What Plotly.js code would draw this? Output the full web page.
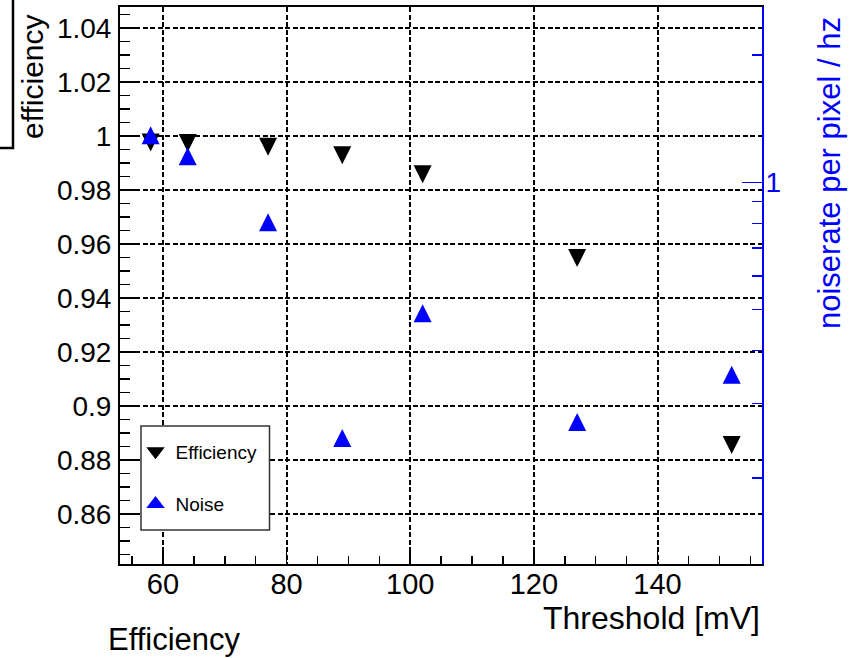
<!DOCTYPE html>
<html>
<head>
<meta charset="utf-8">
<script src="https://cdn.plot.ly/plotly-3.0.1.min.js"></script>
<style>html,body{margin:0;padding:0;background:#fff;}#chart{width:856px;height:658px;}</style>
</head>
<body>
<div id="chart"></div>
<script>
// ---- data ----
const thresholds = [58, 64, 77, 89, 102, 127, 152];          // Threshold [mV]
const efficiency = [0.9976, 0.9974, 0.9960, 0.9929, 0.9859, 0.9548, 0.8856];
const noiseRate  = [1.291, 1.152, 0.804, 0.2486, 0.490, 0.2713, 0.3507]; // per pixel / hz
const noiseMajorTicks = [1];
const noiseMinorTicks = [0.2, 0.3, 0.4, 0.5, 0.6, 0.7, 0.8, 0.9, 2];
const seriesNames = ['Efficiency', 'Noise'];

// ---- layout geometry ----
const W = 856, H = 658;
const M = {l: 120, r: 94, t: 7, b: 94};
const PW = W - M.l - M.r, PH = H - M.t - M.b;
const px2x = px => (px - M.l) / PW;
const py2y = py => (H - M.b - py) / PH;
const FONT = 'Liberation Sans, Arial, Helvetica, sans-serif';
const BLUE = '#0000ff';

const traces = [
  {
    x: thresholds, y: efficiency, name: seriesNames[0], type: 'scatter', mode: 'markers',
    showlegend: false,
    marker: {symbol: 'arrow-down', angle: 0, standoff: 9, size: 18, color: '#000000', line: {width: 0}},
    xaxis: 'x', yaxis: 'y'
  },
  {
    x: thresholds, y: noiseRate, name: seriesNames[1], type: 'scatter', mode: 'markers',
    showlegend: false,
    marker: {symbol: 'arrow-down', angle: 180, standoff: 9, size: 18, color: BLUE, line: {width: 0}},
    xaxis: 'x', yaxis: 'y2'
  },
  // legend entries (no drawn points)
  {
    x: [null], y: [null], name: seriesNames[0], type: 'scatter', mode: 'markers',
    legendgroup: 'a', showlegend: true, hoverinfo: 'skip',
    marker: {symbol: 'triangle-down', size: 16, color: '#000000', line: {width: 0}},
    xaxis: 'x', yaxis: 'y'
  },
  {
    x: [null], y: [null], name: seriesNames[1], type: 'scatter', mode: 'markers',
    legendgroup: 'b', showlegend: true, hoverinfo: 'skip',
    marker: {symbol: 'triangle-up', size: 16, color: BLUE, line: {width: 0}},
    xaxis: 'x', yaxis: 'y'
  }
];

const layout = {
  width: W, height: H,
  margin: M,
  paper_bgcolor: '#ffffff', plot_bgcolor: '#ffffff',
  font: {family: FONT, color: '#000000'},
  showlegend: true,
  legend: {
    x: px2x(135.5), y: py2y(432.5), xanchor: 'left', yanchor: 'top',
    bgcolor: 'rgba(0,0,0,0)', borderwidth: 0,
    font: {family: FONT, size: 19, color: '#000'},
    tracegroupgap: 25, traceorder: 'grouped', itemwidth: 30
  },
  xaxis: {
    range: [53.05, 156.9],
    tick0: 0, dtick: 20,
    ticks: 'inside', ticklen: 16, tickwidth: 1.5, tickcolor: '#000',
    minor: {dtick: 5, ticks: 'inside', ticklen: 8, tickwidth: 1.5, tickcolor: '#000', showgrid: false},
    showline: true, linecolor: '#000', linewidth: 2, mirror: true,
    showgrid: true, gridcolor: '#000', gridwidth: 2, griddash: '5px,2.5px',
    zeroline: false,
    tickfont: {family: FONT, size: 29, color: '#000'},
    ticklabelstandoff: -7
  },
  yaxis: {
    range: [0.8415, 1.0478],
    tick0: 0, dtick: 0.02,
    ticks: 'inside', ticklen: 20, tickwidth: 1.5, tickcolor: '#000',
    minor: {dtick: 0.005, ticks: 'inside', ticklen: 10, tickwidth: 1.5, tickcolor: '#000', showgrid: false},
    showline: true, linecolor: '#000', linewidth: 2,
    showgrid: true, gridcolor: '#000', gridwidth: 2, griddash: '5px,2.5px',
    zeroline: false,
    tickfont: {family: FONT, size: 28, color: '#000'},
    ticklabelstandoff: 1
  },
  yaxis2: {
    type: 'log', overlaying: 'y', side: 'right', anchor: 'x',
    range: [-0.9024, 0.4144],
    tickmode: 'array', tickvals: noiseMajorTicks, ticktext: noiseMajorTicks.map(String),
    ticks: 'inside', ticklen: 20, tickwidth: 1.5, tickcolor: BLUE,
    minor: {tickmode: 'array', tickvals: noiseMinorTicks, ticks: 'inside', ticklen: 10, tickwidth: 1.5, tickcolor: BLUE, showgrid: false},
    showline: true, linecolor: BLUE, linewidth: 2,
    showgrid: false, zeroline: false,
    tickfont: {family: FONT, size: 28, color: BLUE},
    ticklabelstandoff: -4
  },
  shapes: [
    // partially visible frame at the top-left corner
    {type: 'rect', xref: 'paper', yref: 'paper',
     x0: px2x(-20), x1: px2x(13), y0: py2y(148), y1: py2y(-20),
     line: {color: '#000', width: 2.5}, fillcolor: 'rgba(0,0,0,0)'},
    // legend box
    {type: 'rect', xref: 'paper', yref: 'paper', layer: 'above',
     x0: px2x(141), x1: px2x(269.5), y0: py2y(530), y1: py2y(426),
     line: {color: '#333', width: 1.5}, fillcolor: '#ffffff'}
  ],
  annotations: [
    {text: 'efficiency', xref: 'paper', yref: 'paper', x: px2x(32), y: py2y(77),
     xanchor: 'center', yanchor: 'middle', textangle: -90, showarrow: false,
     font: {family: FONT, size: 30, color: '#000'}},
    {text: 'noiserate per pixel / hz', xref: 'paper', yref: 'paper', x: px2x(830), y: py2y(173),
     xanchor: 'center', yanchor: 'middle', textangle: -90, showarrow: false,
     font: {family: FONT, size: 31, color: BLUE}},
    {text: 'Threshold [mV]', xref: 'paper', yref: 'paper', x: px2x(762), y: py2y(618),
     xanchor: 'right', yanchor: 'middle', showarrow: false,
     font: {family: FONT, size: 32, color: '#000'}},
    {text: 'Efficiency', xref: 'paper', yref: 'paper', x: px2x(174), y: py2y(639),
     xanchor: 'center', yanchor: 'middle', showarrow: false,
     font: {family: FONT, size: 31, color: '#000'}}
  ]
};

Plotly.newPlot('chart', traces, layout, {displayModeBar: false, staticPlot: true});
</script>
</body>
</html>
